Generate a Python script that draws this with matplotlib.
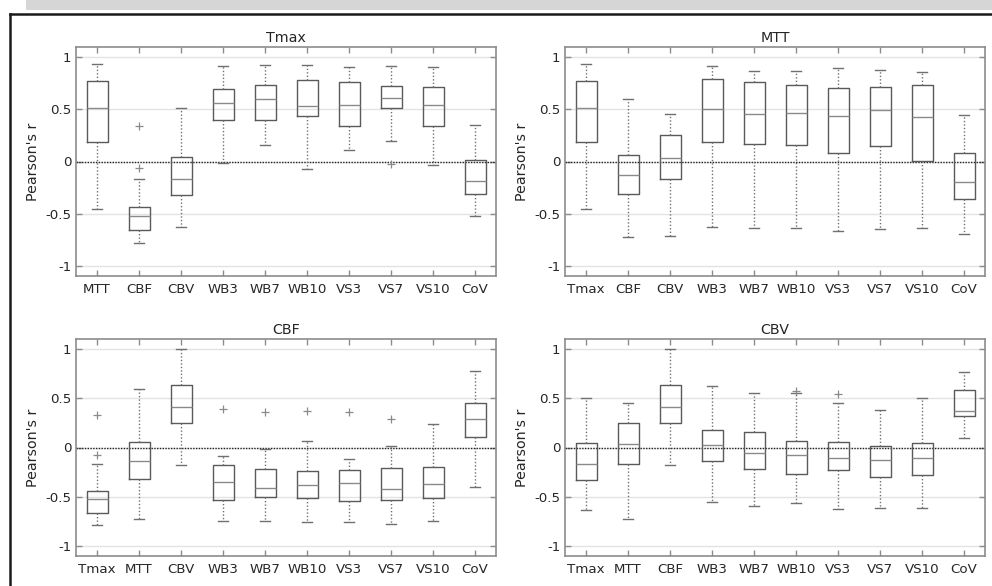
import matplotlib
matplotlib.use("Agg")
import matplotlib.pyplot as plt
from matplotlib.lines import Line2D
from matplotlib.patches import Rectangle

# ---------------- data ----------------
tmax_labels = ["MTT", "CBF", "CBV", "WB3", "WB7", "WB10", "VS3", "VS7", "VS10", "CoV"]
tmax_whislo = [-0.452, -0.782, -0.628, -0.019, 0.157, -0.074, 0.115, 0.196, -0.032, -0.526]
tmax_q1     = [0.189, -0.660, -0.324, 0.394, 0.394, 0.433, 0.340, 0.513, 0.340, -0.317]
tmax_med    = [0.510, -0.519, -0.167, 0.558, 0.596, 0.529, 0.538, 0.606, 0.538, -0.186]
tmax_q3     = [0.776, -0.436, 0.048, 0.692, 0.734, 0.782, 0.766, 0.724, 0.712, 0.016]
tmax_whishi = [0.939, -0.170, 0.513, 0.917, 0.926, 0.926, 0.910, 0.920, 0.910, 0.349]
tmax_fliers = [[], [0.337, -0.067], [], [], [], [], [], [-0.026], [], []]

mtt_labels = ["Tmax", "CBF", "CBV", "WB3", "WB7", "WB10", "VS3", "VS7", "VS10", "CoV"]
mtt_whislo = [-0.452, -0.721, -0.715, -0.628, -0.641, -0.641, -0.663, -0.651, -0.641, -0.692]
mtt_q1     = [0.189, -0.308, -0.170, 0.186, 0.167, 0.163, 0.077, 0.147, 0.003, -0.365]
mtt_med    = [0.510, -0.131, 0.038, 0.506, 0.455, 0.462, 0.436, 0.490, 0.426, -0.196]
mtt_q3     = [0.776, 0.064, 0.253, 0.788, 0.766, 0.731, 0.705, 0.715, 0.731, 0.080]
mtt_whishi = [0.939, 0.599, 0.452, 0.917, 0.872, 0.872, 0.894, 0.881, 0.859, 0.446]
mtt_fliers = [[], [], [], [], [], [], [], [], [], []]

cbf_labels = ["Tmax", "MTT", "CBV", "WB3", "WB7", "WB10", "VS3", "VS7", "VS10", "CoV"]
cbf_whislo = [-0.788, -0.721, -0.179, -0.745, -0.748, -0.751, -0.751, -0.775, -0.741, -0.403]
cbf_q1     = [-0.663, -0.318, 0.247, -0.531, -0.504, -0.514, -0.541, -0.528, -0.514, 0.108]
cbf_med    = [-0.525, -0.139, 0.406, -0.349, -0.409, -0.379, -0.359, -0.420, -0.372, 0.284]
cbf_q3     = [-0.440, 0.058, 0.633, -0.173, -0.217, -0.237, -0.230, -0.210, -0.200, 0.447]
cbf_whishi = [-0.169, 0.589, 0.995, -0.091, -0.017, 0.068, -0.112, 0.017, 0.240, 0.772]
cbf_fliers = [[0.328, -0.071], [], [], [0.389], [0.362], [0.369], [0.359], [0.291], [], []]

cbv_labels = ["Tmax", "MTT", "CBF", "WB3", "WB7", "WB10", "VS3", "VS7", "VS10", "CoV"]
cbv_whislo = [-0.633, -0.721, -0.179, -0.548, -0.589, -0.565, -0.619, -0.613, -0.616, 0.098]
cbv_q1     = [-0.328, -0.169, 0.247, -0.135, -0.220, -0.264, -0.227, -0.298, -0.277, 0.315]
cbv_med    = [-0.169, 0.034, 0.406, 0.027, -0.051, -0.071, -0.105, -0.125, -0.105, 0.372]
cbv_q3     = [0.044, 0.244, 0.633, 0.173, 0.159, 0.064, 0.051, 0.020, 0.044, 0.582]
cbv_whishi = [0.504, 0.447, 0.995, 0.626, 0.552, 0.552, 0.447, 0.382, 0.504, 0.761]
cbv_fliers = [[], [], [], [], [], [0.572], [0.538], [], [], []]

panel_titles = ["Tmax", "MTT", "CBF", "CBV"]
y_ticks = [-1, -0.5, 0, 0.5, 1]
y_ticklabels = ["-1", "-0.5", "0", "0.5", "1"]
y_label = "Pearson's r"

panels = [
    (tmax_labels, tmax_whislo, tmax_q1, tmax_med, tmax_q3, tmax_whishi, tmax_fliers),
    (mtt_labels, mtt_whislo, mtt_q1, mtt_med, mtt_q3, mtt_whishi, mtt_fliers),
    (cbf_labels, cbf_whislo, cbf_q1, cbf_med, cbf_q3, cbf_whishi, cbf_fliers),
    (cbv_labels, cbv_whislo, cbv_q1, cbv_med, cbv_q3, cbv_whishi, cbv_fliers),
]

# ---------------- figure ----------------
W, H = 992, 586
fig = plt.figure(figsize=(W / 100, H / 100), dpi=100)
plt.rcParams["font.family"] = "DejaVu Sans"

# gray band at top and black frame
fig.add_artist(Rectangle((26 / W, 1 - 10 / H), 1 - 26 / W, 10 / H,
                         transform=fig.transFigure, facecolor="#d6d6d6",
                         edgecolor="none"))
fig.add_artist(Line2D([10 / W, 1], [1 - 13.5 / H, 1 - 13.5 / H],
                      transform=fig.transFigure, color="#1a1a1a", lw=1.8))
fig.add_artist(Line2D([10 / W, 10 / W], [0, 1 - 13.5 / H],
                      transform=fig.transFigure, color="#1a1a1a", lw=1.8))

# axes rectangles in pixels: left, right, top, bottom
rects = [
    (76, 496, 47, 276),
    (565, 985, 47, 276),
    (76, 496, 339, 556),
    (565, 985, 339, 556),
]

spine_col = "#8c8c8c"
box_col = "#5a5a5a"
med_col = "#8a8a8a"
text_col = "#262626"

for (l, r, t, b), title, data in zip(rects, panel_titles, panels):
    ax = fig.add_axes([l / W, 1 - b / H, (r - l) / W, (b - t) / H])
    labels, wlo, q1, med, q3, whi, fl = data
    stats = []
    for i in range(len(labels)):
        stats.append(dict(label=labels[i], whislo=wlo[i], q1=q1[i], med=med[i],
                          q3=q3[i], whishi=whi[i], fliers=fl[i]))
    ax.bxp(stats, positions=range(1, len(labels) + 1), widths=0.5,
           capwidths=0.25,
           boxprops=dict(color=box_col, lw=1.0),
           medianprops=dict(color=med_col, lw=1.0),
           whiskerprops=dict(color="#707070", lw=1.0, linestyle=(0, (1, 1.5))),
           capprops=dict(color="#707070", lw=1.0),
           flierprops=dict(marker="+", markeredgecolor="#8a8a8a",
                           markersize=6, markeredgewidth=0.9, linestyle="none"))
    ax.axhline(0, color="#222222", lw=1.0, linestyle=(0, (1, 1)), zorder=1)
    ax.set_xlim(0.5, len(labels) + 0.5)
    ax.set_ylim(-1.1, 1.1)
    ax.set_yticks(y_ticks)
    ax.set_yticklabels(y_ticklabels)
    ax.set_xticks(range(1, len(labels) + 1))
    ax.set_xticklabels(labels)
    ax.yaxis.grid(True, color="#e3e3e3", lw=1.0)
    ax.set_axisbelow(True)
    for s in ax.spines.values():
        s.set_color(spine_col)
        s.set_linewidth(1.2)
    ax.tick_params(direction="in", length=4, width=1.0, color=spine_col,
                   labelcolor=text_col, labelsize=9.6, top=True, right=True)
    ax.tick_params(axis="x", pad=5)
    ax.tick_params(axis="y", pad=3.5)
    ax.set_title(title, fontsize=10.3, color=text_col, pad=3.5)
    ax.set_ylabel(y_label, fontsize=10.3, color=text_col, labelpad=3.5)

fig.savefig("out.png", dpi=100)
